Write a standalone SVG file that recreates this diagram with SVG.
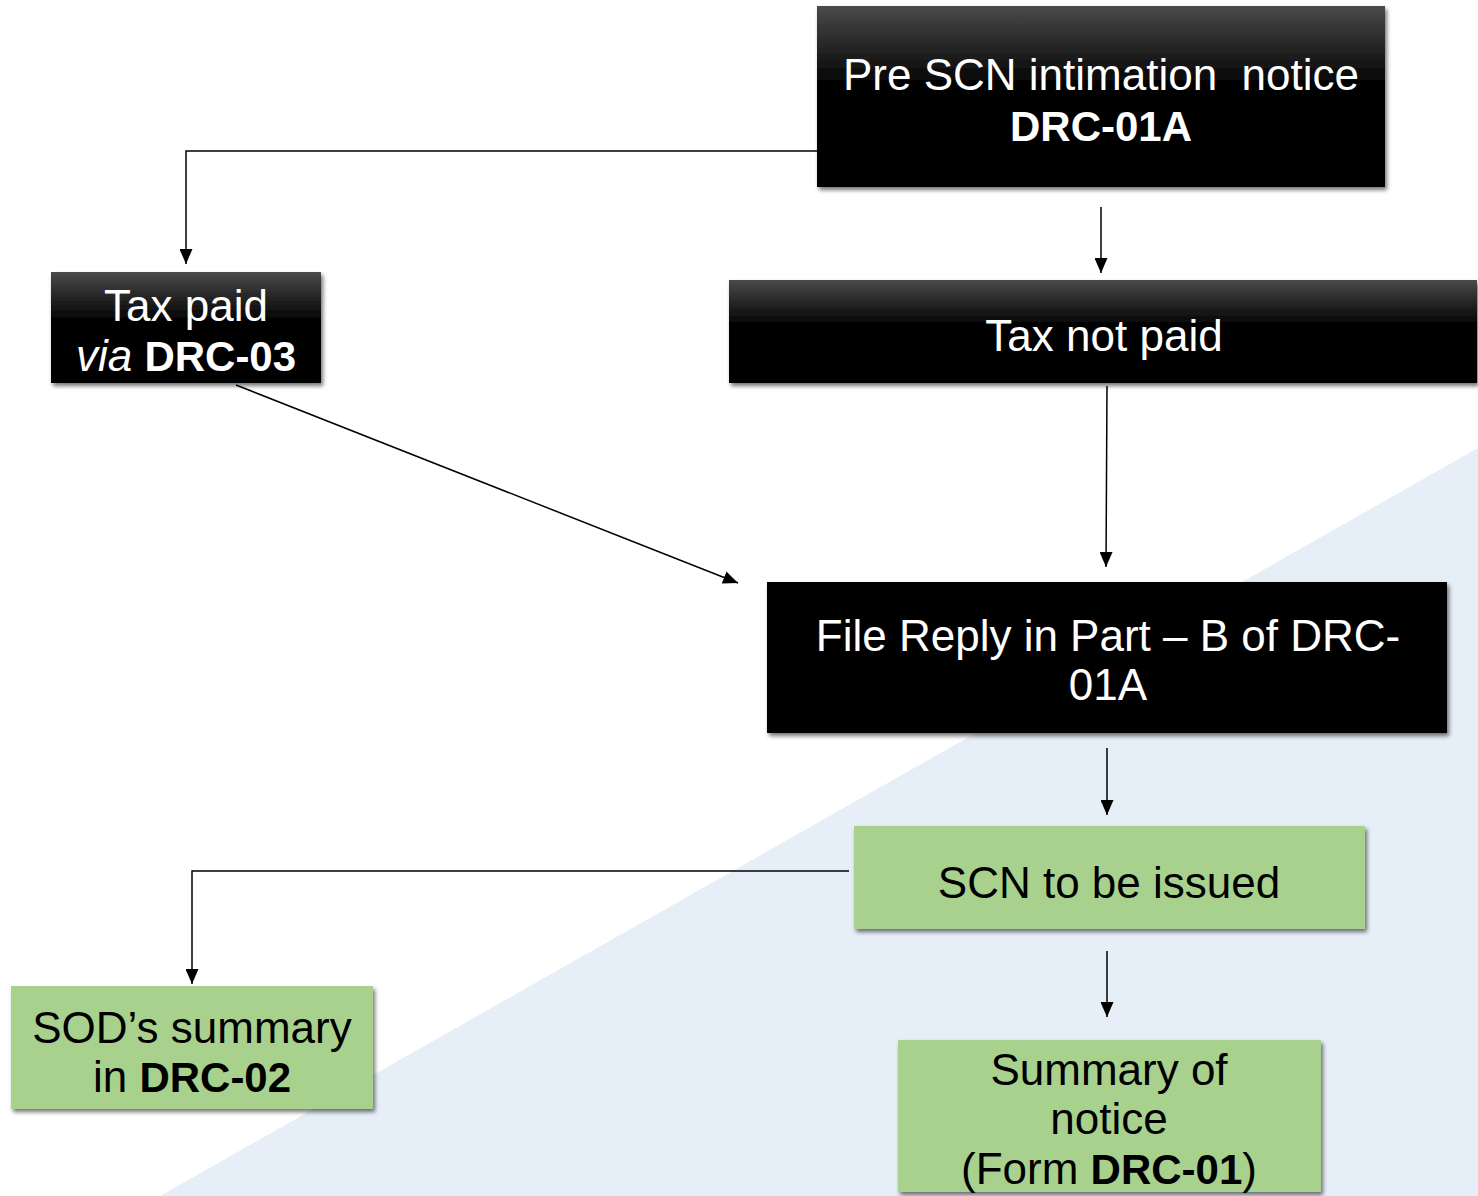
<svg xmlns="http://www.w3.org/2000/svg" width="1478" height="1196" viewBox="0 0 1478 1196">
<defs>
<linearGradient id="gDark" x1="0" y1="0" x2="0" y2="1">
<stop offset="0" stop-color="#4a4a4a"/>
<stop offset="0.45" stop-color="#000"/>
<stop offset="1" stop-color="#000"/>
</linearGradient>
<filter id="sh" x="-10%" y="-10%" width="120%" height="130%">
<feDropShadow dx="2" dy="3" stdDeviation="2.2" flood-color="#000" flood-opacity="0.55"/>
</filter>
<marker id="arr" markerUnits="userSpaceOnUse" markerWidth="15" markerHeight="13" refX="15" refY="6.5" orient="auto">
<path d="M0,0 L15,6.5 L0,13 z" fill="#000"/>
</marker>
<style>
.dark{fill:url(#gDark);filter:url(#sh)}
.black{fill:#000;filter:url(#sh)}
.green{fill:#A9D18E;filter:url(#sh)}
.t{font-family:"Liberation Sans",Arial,sans-serif;font-size:44px;text-anchor:middle}
.w{fill:#fff}
.k{fill:#000}
.b{font-weight:bold;font-size:42px}
.c{fill:none;stroke:#000;stroke-width:1.5}
</style>
</defs>
<rect width="1478" height="1196" fill="#fff"/>
<polygon points="1478,448 1478,1196 160,1196" fill="#E6EEF8"/>
<g id="connectors">
<path class="c" d="M817,151 H186 V264" marker-end="url(#arr)"/>
<path class="c" d="M1101,207 V273" marker-end="url(#arr)"/>
<path class="c" d="M236,385 L738,583" marker-end="url(#arr)"/>
<path class="c" d="M1107,386 L1106,567" marker-end="url(#arr)"/>
<path class="c" d="M1107,748 V815" marker-end="url(#arr)"/>
<path class="c" d="M849,871 H192 V984" marker-end="url(#arr)"/>
<path class="c" d="M1107,951 V1017" marker-end="url(#arr)"/>
</g>
<g id="pre-scn">
<rect class="dark" x="817" y="6" width="568" height="181"/>
<text class="t w" x="1101" y="90">Pre SCN intimation&#160; notice</text>
<text class="t w b" x="1101" y="141">DRC-01A</text>
</g>
<g id="tax-paid">
<rect class="dark" x="51" y="272" width="270" height="111"/>
<text class="t w" x="186" y="321">Tax paid</text>
<text class="t w" x="186" y="371"><tspan font-style="italic">via</tspan> <tspan class="b">DRC-03</tspan></text>
</g>
<g id="tax-not-paid">
<rect class="dark" x="729" y="280" width="748" height="103"/>
<text class="t w" x="1104" y="351">Tax not paid</text>
</g>
<g id="file-reply">
<rect class="black" x="767" y="582" width="680" height="151"/>
<text class="t w" x="1108" y="651">File Reply in Part – B of DRC-</text>
<text class="t w" x="1108" y="700">01A</text>
</g>
<g id="scn-issued">
<rect class="green" x="854" y="826" width="511" height="103"/>
<text class="t k" x="1109" y="898">SCN to be issued</text>
</g>
<g id="sod-summary">
<rect class="green" x="11" y="986" width="362" height="123"/>
<text class="t k" x="192" y="1043">SOD’s summary</text>
<text class="t k" x="192" y="1092">in <tspan class="b">DRC-02</tspan></text>
</g>
<g id="summary-notice">
<rect class="green" x="898" y="1040" width="423" height="152"/>
<text class="t k" x="1109" y="1085">Summary of</text>
<text class="t k" x="1109" y="1134">notice</text>
<text class="t k" x="1109" y="1184">(Form <tspan class="b">DRC-01</tspan>)</text>
</g>
</svg>
